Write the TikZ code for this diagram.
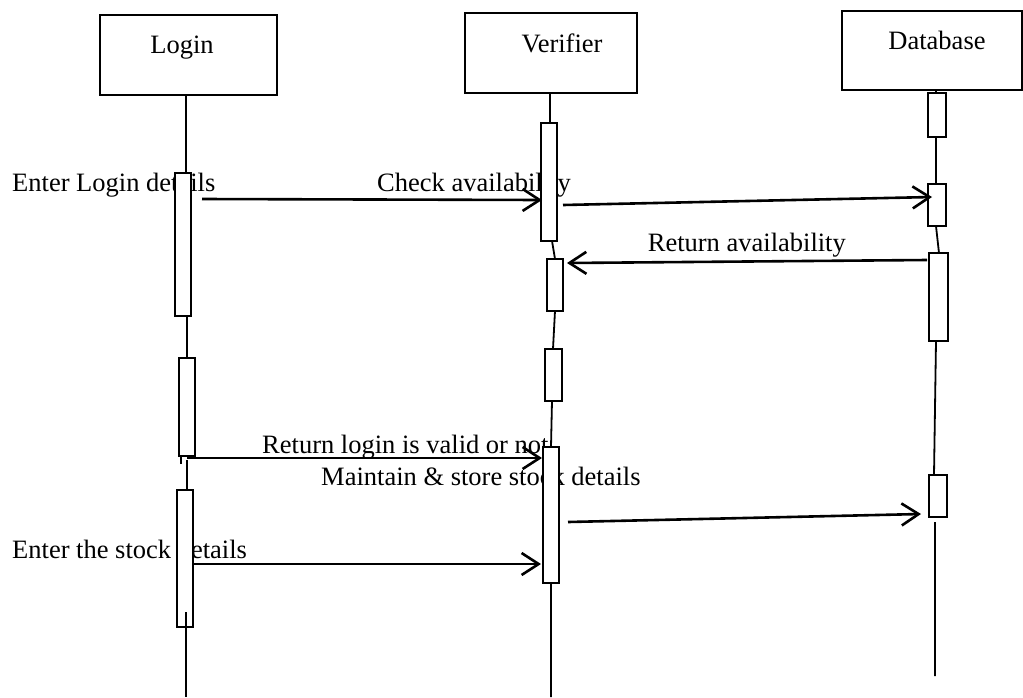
\documentclass[tikz,border=0pt]{standalone}
\usepackage{fontspec}
\setmainfont{Liberation Serif}
\usetikzlibrary{arrows.meta}
\begin{document}
\begin{tikzpicture}[x=1pt,y=-1pt,
  every node/.style={font=\fontsize{26.5}{30}\selectfont},
  hdr/.style={draw, line width=2.2pt, fill=white, inner sep=0pt, text height=18pt},
  act/.style={draw, line width=2pt, fill=white, inner sep=0pt},
  life/.style={line width=1.8pt},
  msg/.style={line width=2.6pt, -{Straight Barb[length=17pt,width=22pt]}},
  lbl/.style={inner sep=0pt, anchor=base west}]
\useasboundingbox (0,0) rectangle (1023,697);

% header boxes
\node[hdr, minimum width=177pt, minimum height=80pt, text depth=22pt] (login) at (188.5,55) {Login\hspace*{13pt}};
\node[hdr, minimum width=172pt, minimum height=80pt, text depth=20pt] (verifier) at (551,53) {\hspace*{22pt}Verifier};
\node[hdr, minimum width=180pt, minimum height=79pt, text depth=21pt] (database) at (932,50.5) {\hspace*{10pt}Database};

% message labels
\node[lbl] (t1) at (12,191) {Enter Login details};
\node[lbl] (t2) at (377,191) {Check availability};
\node[lbl, anchor=base east] (t3) at (846,251) {Return availability};
\node[lbl] (t4) at (262,453) {Return login is valid or not};
\node[lbl] (t5) at (321,485) {Maintain \& store stock details};
\node[lbl] (t6) at (12,558) {Enter the stock details};

% lifeline segment end points
\coordinate (l0) at (186,95);
\coordinate (l1) at (186,173);
\coordinate (l2) at (187,316);
\coordinate (l3) at (187,358);
\coordinate (l4) at (187,460);
\coordinate (l5) at (187,490);
\coordinate (l6) at (186,612);
\coordinate (l7) at (186,697);
\coordinate (lt1) at (181,456);
\coordinate (lt2) at (181,464);

\coordinate (v0) at (550,93);
\coordinate (v1) at (550,123);
\coordinate (v2) at (552,241);
\coordinate (v3) at (555,259);
\coordinate (v4) at (555,311);
\coordinate (v5) at (553,349);
\coordinate (v6) at (552,401);
\coordinate (v7) at (551,447);
\coordinate (v8) at (551,583);
\coordinate (v9) at (551,697);

\coordinate (d0) at (936,90);
\coordinate (d1) at (936,137);
\coordinate (d2) at (936,184);
\coordinate (d3) at (936,226);
\coordinate (d4) at (939,253);
\coordinate (d5) at (936,341);
\coordinate (d6) at (934,475);
\coordinate (d7) at (935,522);
\coordinate (d8) at (935,676);

\draw[life] (l0) -- (l1) (l2) -- (l3) (l4) -- (l5) (l6) -- (l7) (lt1) -- (lt2);
\draw[life] (v0) -- (v1) (v2) -- (v3) (v4) -- (v5) (v6) -- (v7) (v8) -- (v9);
\draw[life] (d0) -- (d1) (d1) -- (d2) (d3) -- (d4) (d5) -- (d6) (d7) -- (d8);

% message end points
\coordinate (a1s) at (202,199);   \coordinate (a1e) at (542,200);
\coordinate (a2s) at (563,205);   \coordinate (a2e) at (932,197);
\coordinate (a3s) at (927,260);   \coordinate (a3e) at (567,263);
\coordinate (a4s) at (187,458);   \coordinate (a4e) at (542,458);
\coordinate (a5s) at (568,522);   \coordinate (a5e) at (921,514);
\coordinate (a6s) at (193,564);   \coordinate (a6e) at (541,564);

% activation boxes
\node[act, minimum width=16pt, minimum height=143pt] (L1) at (183,244.5) {};
\node[act, minimum width=16pt, minimum height=98pt]  (L2) at (187,407) {};
\node[act, minimum width=16pt, minimum height=137pt] (L3) at (185,558.5) {};
\draw[life] (l6) -- (L3.south -| l6);

\node[act, minimum width=16pt, minimum height=118pt] (V1) at (549,182) {};
\node[act, minimum width=16pt, minimum height=52pt]  (V2) at (555,285) {};
\node[act, minimum width=17pt, minimum height=52pt]  (V3) at (553.5,375) {};
\node[act, minimum width=16pt, minimum height=136pt] (V4) at (551,515) {};

\node[act, minimum width=18pt, minimum height=44pt] (D1) at (937,115) {};
\node[act, minimum width=18pt, minimum height=42pt] (D2) at (937,205) {};
\node[act, minimum width=19pt, minimum height=88pt] (D3) at (938.5,297) {};
\node[act, minimum width=18pt, minimum height=42pt] (D4) at (938,496) {};

% messages
\draw[msg] (a1s) -- (a1e);
\draw[msg] (a2s) -- (a2e);
\draw[msg] (a3s) -- (a3e);
\draw[msg] (a4s) -- (a4e);
\draw[msg] (a5s) -- (a5e);
\draw[msg] (a6s) -- (a6e);
\end{tikzpicture}
\end{document}
